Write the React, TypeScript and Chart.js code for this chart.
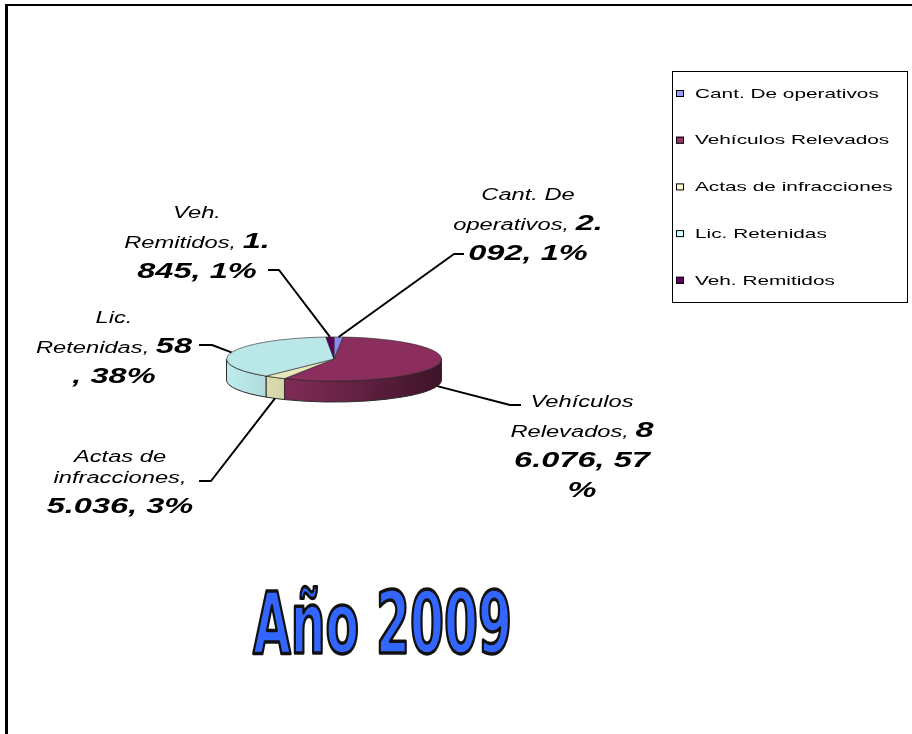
import { useEffect, useRef } from 'react';
import { Chart, registerables } from 'chart.js';

Chart.register(...registerables);

// Series data
const categories = [
  'Cant. De operativos',
  'Vehículos Relevados',
  'Actas de infracciones',
  'Lic. Retenidas',
  'Veh. Remitidos',
];
const values = [2092, 86076, 5036, 58000, 1845];
const valueLabels = ['2.092', '86.076', '5.036', '58', '1.845'];
const percentLabels = ['1%', '57%', '3%', '38%', '1%'];
const seriesColors = ['#9999FF', '#993366', '#FFFFCC', '#CCFFFF', '#660066'];
const chartTitle = 'Año 2009';

// Geometry / styling of the tilted pie
const TILT = 0.205; // vertical squash of the pie top
const DEPTH = 21; // thickness of the pie wall
const TEXT_SX = 1.48; // horizontal stretch of data label text
const LEGEND_SX = 1.6;

// Label placement: centre x, first baseline, wrap points, leader start points
const labelLayout = [
  { cx: 528, y: 200, breaks: [8, 23], leader: [[464, 254], [454, 254]] },
  { cx: 582, y: 407, breaks: [9, 22, 31], leader: [[521, 405], [510, 405]] },
  { cx: 120, y: 462, breaks: [8, 22], leader: [[199, 481], [211, 481]] },
  { cx: 114, y: 323, breaks: [4, 18], leader: [[199, 345], [212, 345]] },
  { cx: 197, y: 218, breaks: [4, 18], leader: [[268, 270], [279, 270]] },
];

function shade(hex: string, f: number): string {
  const n = parseInt(hex.slice(1), 16);
  const r = Math.round(((n >> 16) & 255) * f);
  const g = Math.round(((n >> 8) & 255) * f);
  const b = Math.round((n & 255) * f);
  return `rgb(${r},${g},${b})`;
}

const topColors = seriesColors.map((c) => shade(c, 0.91));

const NORMAL_FONT = 'italic 16px "Liberation Sans", Arial, sans-serif';
const BOLD_FONT = 'italic bold 22px "Liberation Sans", Arial, sans-serif';

type Run = { text: string; bold: boolean };

function buildLines(i: number): Run[][] {
  const full = `${categories[i]}, ${valueLabels[i]}, ${percentLabels[i]}`;
  const boldStart = categories[i].length + 2;
  const cuts = [0, ...labelLayout[i].breaks, full.length];
  const lines: Run[][] = [];
  for (let k = 0; k < cuts.length - 1; k++) {
    let s = cuts[k];
    let e = cuts[k + 1];
    while (s < e && full[s] === ' ') s++;
    while (e > s && full[e - 1] === ' ') e--;
    const runs: Run[] = [];
    if (s < Math.min(e, boldStart)) runs.push({ text: full.slice(s, Math.min(e, boldStart)), bold: false });
    if (Math.max(s, boldStart) < e) runs.push({ text: full.slice(Math.max(s, boldStart), e), bold: true });
    lines.push(runs);
  }
  return lines;
}

function drawRunLine(ctx: CanvasRenderingContext2D, runs: Run[], cx: number, baseline: number, sx: number) {
  let total = 0;
  const widths = runs.map((r) => {
    ctx.font = r.bold ? BOLD_FONT : NORMAL_FONT;
    const w = ctx.measureText(r.text).width * sx;
    total += w;
    return w;
  });
  let x = cx - total / 2;
  runs.forEach((r, j) => {
    ctx.save();
    ctx.font = r.bold ? BOLD_FONT : NORMAL_FONT;
    ctx.translate(x, baseline);
    ctx.scale(sx, 1);
    ctx.fillText(r.text, 0, 0);
    ctx.restore();
    x += widths[j];
  });
}

const pie3d = {
  id: 'pie3d',
  beforeDraw(chart: any) {
    const ctx = chart.ctx as CanvasRenderingContext2D;
    ctx.save();
    ctx.fillStyle = '#ffffff';
    ctx.fillRect(0, 0, chart.width, chart.height);
    ctx.restore();
  },
  beforeDatasetsDraw(chart: any) {
    const ctx = chart.ctx as CanvasRenderingContext2D;
    const arcs = chart.getDatasetMeta(0).data;
    const { x: cx, y: cy, outerRadius: rx } = arcs[0];
    const ry = rx * TILT;

    // Side wall of the front half of the pie
    arcs.forEach((arc: any, i: number) => {
      const a0 = Math.max(arc.startAngle, 0);
      const a1 = Math.min(arc.endAngle, Math.PI);
      if (a1 <= a0) return;
      const grad = ctx.createLinearGradient(cx - rx, 0, cx + rx, 0);
      grad.addColorStop(0, shade(seriesColors[i], 0.93));
      grad.addColorStop(0.35, shade(seriesColors[i], 0.8));
      grad.addColorStop(1, shade(seriesColors[i], 0.4));
      ctx.save();
      ctx.beginPath();
      ctx.ellipse(cx, cy, rx, ry, 0, a0, a1, false);
      ctx.lineTo(cx + rx * Math.cos(a1), cy + ry * Math.sin(a1) + DEPTH);
      ctx.ellipse(cx, cy + DEPTH, rx, ry, 0, a1, a0, true);
      ctx.closePath();
      ctx.fillStyle = grad;
      ctx.fill();
      ctx.strokeStyle = '#2a2a2a';
      ctx.lineWidth = 1;
      ctx.stroke();
      ctx.restore();
    });

    // Squash the pie top drawn by Chart.js into an ellipse
    ctx.save();
    ctx.translate(cx, cy);
    ctx.scale(1, TILT);
    ctx.translate(-cx, -cy);
  },
  afterDatasetsDraw(chart: any) {
    const ctx = chart.ctx as CanvasRenderingContext2D;
    ctx.restore();

    const arcs = chart.getDatasetMeta(0).data;
    const { x: cx, y: cy, outerRadius: rx } = arcs[0];
    const ry = rx * TILT;

    // Leader lines
    arcs.forEach((arc: any, i: number) => {
      const mid = (arc.startAngle + arc.endAngle) / 2;
      const s = Math.sin(mid);
      const px = cx + rx * Math.cos(mid);
      const py = cy + ry * s + (s > 0 ? DEPTH : 0);
      const pts = labelLayout[i].leader;
      ctx.save();
      ctx.strokeStyle = '#000';
      ctx.lineWidth = 2;
      ctx.lineJoin = 'round';
      ctx.beginPath();
      ctx.moveTo(pts[0][0], pts[0][1]);
      for (let k = 1; k < pts.length; k++) ctx.lineTo(pts[k][0], pts[k][1]);
      ctx.lineTo(px, py);
      ctx.stroke();
      ctx.restore();
    });

    // Data labels
    ctx.save();
    ctx.fillStyle = '#000';
    ctx.textBaseline = 'alphabetic';
    ctx.textAlign = 'left';
    categories.forEach((_, i) => {
      const lines = buildLines(i);
      let y = labelLayout[i].y;
      lines.forEach((runs, k) => {
        if (k > 0) y += runs.some((r) => r.bold) ? 30 : 21;
        drawRunLine(ctx, runs, labelLayout[i].cx, y, TEXT_SX);
      });
    });
    ctx.restore();
  },
  afterDraw(chart: any) {
    const ctx = chart.ctx as CanvasRenderingContext2D;

    // Legend box
    ctx.save();
    ctx.strokeStyle = '#000';
    ctx.lineWidth = 1;
    ctx.strokeRect(672.5, 71.5, 235, 231);
    ctx.font = '13px "Liberation Sans", Arial, sans-serif';
    ctx.textBaseline = 'alphabetic';
    ctx.textAlign = 'left';
    categories.forEach((cat, i) => {
      const rowY = 93 + i * 46.7;
      ctx.fillStyle = seriesColors[i];
      ctx.fillRect(676, rowY - 3, 8, 7);
      ctx.strokeStyle = '#000';
      ctx.strokeRect(676.5, rowY - 2.5, 7, 6);
      ctx.save();
      ctx.fillStyle = '#000';
      ctx.translate(695, rowY + 4.7);
      ctx.scale(LEGEND_SX, 1);
      ctx.fillText(cat, 0, 0);
      ctx.restore();
    });
    ctx.restore();

    // Title
    ctx.save();
    ctx.font = 'bold 86px "Liberation Sans Narrow", "DejaVu Sans Condensed", "Liberation Sans", sans-serif';
    const tw = ctx.measureText(chartTitle).width;
    const tsx = 259 / tw;
    ctx.translate(382.5, 653);
    ctx.scale(tsx, 1);
    ctx.textAlign = 'center';
    ctx.textBaseline = 'alphabetic';
    ctx.lineJoin = 'round';
    ctx.fillStyle = '#3366FF';
    ctx.fillText(chartTitle, 0, 0);
    ctx.strokeStyle = '#111';
    ctx.lineWidth = 3.5;
    ctx.strokeText(chartTitle, 0, 0);
    ctx.restore();

    // Frame lines
    ctx.save();
    ctx.fillStyle = '#000';
    ctx.fillRect(5, 4, 3, chart.height - 4);
    ctx.fillRect(5, 4, chart.width - 5, 2);
    ctx.restore();
  },
};

export default function App() {
  const canvasRef = useRef<HTMLCanvasElement>(null);

  useEffect(() => {
    const canvas = canvasRef.current;
    if (!canvas) return;
    const chart = new Chart(canvas, {
      type: 'pie',
      data: {
        labels: categories,
        datasets: [
          {
            data: values,
            backgroundColor: topColors,
            borderColor: '#2a2a2a',
            borderWidth: 1,
            hoverOffset: 0,
          },
        ],
      },
      options: {
        responsive: false,
        animation: false,
        devicePixelRatio: 1,
        events: [],
        layout: { padding: { left: 226, right: 470, top: 251, bottom: 267 } },
        plugins: {
          legend: { display: false },
          tooltip: { enabled: false },
          title: { display: false },
        },
      },
      plugins: [pie3d],
    });
    return () => chart.destroy();
  }, []);

  return (
    <div style={{ position: 'absolute', left: 0, top: 0, width: 912, height: 734, background: '#fff' }}>
      <canvas ref={canvasRef} width={912} height={734} style={{ display: 'block' }} />
    </div>
  );
}
